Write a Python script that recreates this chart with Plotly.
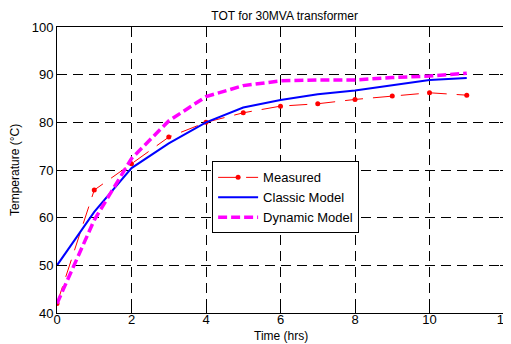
import plotly.graph_objects as go

hours = [0, 1, 2, 3, 4, 5, 6, 7, 8, 9, 10, 11]
measured = [42, 65.8, 71.3, 76.9, 80.0, 82.0, 83.4, 83.9, 84.8, 85.5, 86.2, 85.7]
classic = [50, 61.2, 70.4, 75.6, 80.0, 83.1, 84.7, 85.9, 86.7, 87.8, 88.9, 89.3]
dynamic = [42, 59.5, 72.4, 80.3, 85.4, 87.7, 88.7, 88.9, 88.9, 89.4, 89.7, 90.3]

x_ticks = [0, 2, 4, 6, 8, 10, 12]
y_ticks = [40, 50, 60, 70, 80, 90, 100]

font = "Liberation Sans, Arial, sans-serif"

fig = go.Figure()
fig.add_trace(go.Scatter(x=hours, y=measured, name="Measured", mode="lines+markers",
                         line=dict(color="red", width=1, dash="18px,10px"),
                         marker=dict(color="red", size=5)))
fig.add_trace(go.Scatter(x=hours, y=classic, name="Classic Model", mode="lines",
                         line=dict(color="#0000ff", width=2)))
fig.add_trace(go.Scatter(x=hours, y=dynamic, name="Dynamic Model", mode="lines",
                         line=dict(color="#ff00ff", width=3.5, dash="9px,4px")))

axis_common = dict(showline=True, linecolor="black", linewidth=1, mirror="ticks",
                   ticks="inside", ticklen=4, tickcolor="black",
                   showgrid=True, gridcolor="black", gridwidth=1, griddash="10px,6px",
                   zeroline=False, automargin=False, ticklabeloverflow="allow",
                   tickfont=dict(size=13, color="black", family=font))

fig.update_xaxes(range=[0, 12], tickvals=x_ticks, ticklabelstandoff=-6, **axis_common)
fig.update_yaxes(range=[40, 100], tickvals=y_ticks, **axis_common)

# The page body adds an 8px margin, so the figure is sized/offset to compensate.
fig.update_layout(
    width=503, height=336,
    margin=dict(l=49, r=7, t=19, b=31),
    paper_bgcolor="white", plot_bgcolor="white",
    title=dict(text="TOT for 30MVA transformer", x=0.55, xanchor="center", y=0.99, yanchor="top",
               font=dict(size=12, color="black", family=font)),
    legend=dict(x=0.347, y=0.53, xanchor="left", yanchor="top", bgcolor="white",
                bordercolor="black", borderwidth=1, font=dict(size=13, color="black", family=font),
                tracegroupgap=0, itemwidth=40),
    showlegend=True,
    annotations=[
        dict(text="Time (hrs)", xref="paper", yref="paper", x=0.5, y=0, yshift=-23,
             xanchor="center", yanchor="middle", showarrow=False,
             font=dict(size=12, color="black", family=font)),
        dict(text="Temperature (°C)", xref="paper", yref="paper", x=0, y=0.5, xshift=-42,
             xanchor="center", yanchor="middle", textangle=-90, showarrow=False,
             font=dict(size=12, color="black", family=font)),
    ],
)

fig.write_html("out.html")
